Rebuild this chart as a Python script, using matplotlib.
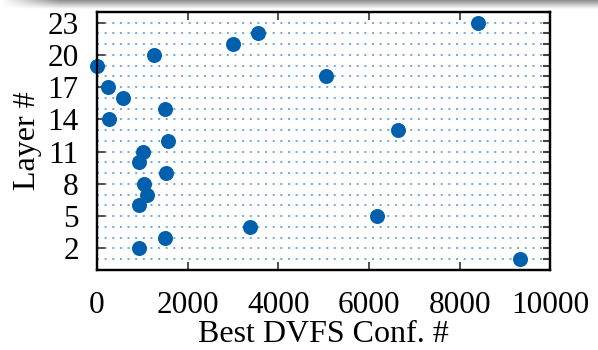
import numpy as np
import matplotlib
matplotlib.use("Agg")
import matplotlib.pyplot as plt
from matplotlib.ticker import MultipleLocator, FixedLocator

# Data
layers = [23, 22, 21, 20, 19, 18, 17, 16, 15, 14, 13, 12,
          11, 10, 9, 8, 7, 6, 5, 4, 3, 2, 1]
best_conf = [8400, 3550, 3000, 1250, 0, 5050, 250, 580, 1500, 270, 6650, 1580,
             1020, 930, 1530, 1040, 1110, 930, 6170, 3380, 1510, 930, 9330]
xticks = [0, 2000, 4000, 6000, 8000, 10000]
yticks = [2, 5, 8, 11, 14, 17, 20, 23]

plt.rcParams['font.family'] = ['Liberation Serif', 'DejaVu Serif']

fig = plt.figure(figsize=(5.98, 3.5), dpi=100)
ax = fig.add_axes([0.162, 0.229, 0.758, 0.737])

# dotted horizontal grid at each integer layer
for y in range(1, 24):
    ax.axhline(y, color='#4f93cf', linewidth=1.1, linestyle=(0, (1.3, 3.7)), zorder=1)

ax.plot(best_conf, layers, 'o', color='#0060ad', markersize=10.8,
        markeredgewidth=0, clip_on=False, zorder=3)

ax.set_xlim(0, 10000)
ax.set_ylim(0, 24)
ax.xaxis.set_major_locator(FixedLocator(xticks))
ax.yaxis.set_major_locator(FixedLocator(yticks))

ax.tick_params(axis='x', which='major', direction='in', length=6, width=1.2,
               top=True, bottom=True, labelsize=22.5, pad=15, color='#333333')
ax.tick_params(axis='y', which='major', direction='in', length=6, width=1.2,
               left=True, right=False, labelsize=22.5, pad=13, color='#333333')

# right side ticks at every integer
ax2 = ax.twinx()
ax2.set_ylim(0, 24)
ax2.yaxis.set_major_locator(MultipleLocator(1))
ax2.tick_params(axis='y', direction='in', length=5, width=1.5, right=True,
                labelright=False, color='#444444')
for a in (ax, ax2):
    for s in a.spines.values():
        s.set_linewidth(1.6)
        s.set_color('black')

ax.set_xlabel('Best DVFS Conf. #', fontsize=23, labelpad=0)
ax.set_ylabel('Layer #', fontsize=23, labelpad=4)

# screenshot-like grey shadow band on top
grad = np.linspace(0.55, 1.0, 50).reshape(-1, 1) * np.ones((1, 300))
xfade = np.clip(np.linspace(0, 1, 300) * 300 / 30, 0, 1)
img = 1 - (1 - grad) * xfade[None, :]
band = fig.add_axes([0, 1 - 9 / 350, 1, 9 / 350], zorder=-1)
band.imshow(img, cmap='gray', vmin=0, vmax=1, aspect='auto', interpolation='bilinear')
band.axis('off')

fig.savefig('out.png', dpi=100)
